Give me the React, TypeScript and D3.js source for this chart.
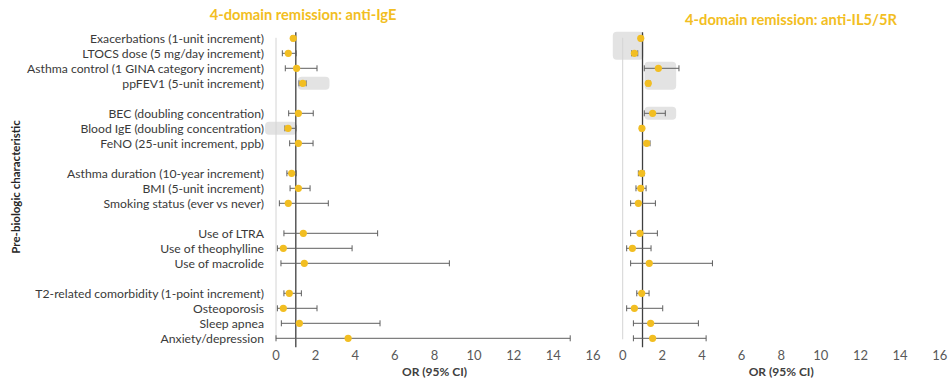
import React from "react";
import * as d3 from "d3";

const categories = [
  "Exacerbations (1-unit increment)",
  "LTOCS dose (5 mg/day increment)",
  "Asthma control (1 GINA category increment)",
  "ppFEV1 (5-unit increment)",
  "",
  "BEC (doubling concentration)",
  "Blood IgE (doubling concentration)",
  "FeNO (25-unit increment, ppb)",
  "",
  "Asthma duration (10-year increment)",
  "BMI (5-unit increment)",
  "Smoking status (ever vs never)",
  "",
  "Use of LTRA",
  "Use of theophylline",
  "Use of macrolide ",
  "",
  "T2-related comorbidity (1-point increment)",
  "Osteoporosis",
  "Sleep apnea",
  "Anxiety/depression",
];

// anti-IgE: OR, lower, upper (null for spacer rows)
const igeOR = [0.87, 0.62, 1.04, 1.35, null, 1.13, 0.61, 1.13, null, 0.79, 1.13, 0.62, null, 1.38, 0.37, 1.43, null, 0.67, 0.37, 1.18, 3.64];
const igeLo = [0.8, 0.32, 0.47, 1.16, null, 0.64, 0.45, 0.69, null, 0.55, 0.71, 0.17, null, 0.4, 0.07, 0.25, null, 0.4, 0.07, 0.27, 0.0];
const igeHi = [0.95, 1.02, 2.07, 1.52, null, 1.88, 1.01, 1.87, null, 1.02, 1.72, 2.64, null, 5.13, 3.84, 8.75, null, 1.28, 2.07, 5.25, 14.85];

// anti-IL5/5R
const il5OR = [0.91, 0.59, 1.8, 1.29, null, 1.51, 0.97, 1.21, null, 0.96, 0.91, 0.79, null, 0.87, 0.49, 1.34, null, 0.96, 0.59, 1.41, 1.51];
const il5Lo = [0.88, 0.45, 1.09, 1.2, null, 1.09, 0.88, 1.01, null, 0.79, 0.67, 0.4, null, 0.4, 0.2, 0.4, null, 0.71, 0.2, 0.54, 0.54];
const il5Hi = [0.95, 0.76, 2.84, 1.38, null, 2.15, 1.05, 1.38, null, 1.08, 1.18, 1.65, null, 1.75, 1.43, 4.53, null, 1.33, 2.02, 3.82, 4.21];

const xTicks = [0, 2, 4, 6, 8, 10, 12, 14, 16];

// highlighted regions
const igeHighlights = [
  { r0: 3, r1: 3, x0: 1.1, x1: 2.7 },
  { r0: 6, r1: 6, x0: -0.55, x1: 1.05 },
];
const il5Highlights = [
  { r0: 0, r1: 1, x0: -0.5, x1: 1.05 },
  { r0: 2, r1: 3, x0: 1.1, x1: 2.7 },
  { r0: 5, r1: 5, x0: 1.1, x1: 2.7 },
];

const GOLD = "#F2BE22";
const FONT = "Lato, 'Open Sans', sans-serif";
const BAR = "#5f5f5f";

function Panel({ left, title, titleX, titleY, or, lo, hi, highlights }: any) {
  const x = d3.scaleLinear().domain([0, 16]).range([left, left + 317]);
  const y = d3.scaleLinear().domain([0, 20]).range([38.3, 338.3]);
  return (
    <g>
      {highlights.map((h: any, i: number) => (
        <rect
          key={"h" + i}
          x={x(h.x0)}
          y={y(h.r0) - 6.5}
          width={x(h.x1) - x(h.x0)}
          height={y(h.r1) - y(h.r0) + 13}
          rx={4}
          fill="#e3e3e3"
        />
      ))}
      <text
        x={titleX}
        y={titleY}
        textAnchor="middle"
        fontFamily={FONT}
        fontWeight="bold"
        fontSize={14.7}
        fill={GOLD}
      >
        {title}
      </text>
      <line x1={x(0)} x2={x(0)} y1={y(0) - 0.5} y2={y(20) + 1} stroke="#d4d4d4" strokeWidth={1} />
      <line x1={x(1)} x2={x(1)} y1={y(0) - 6} y2={y(20) + 9} stroke="#3f3f3f" strokeWidth={1.3} />
      {or.map((v: number | null, i: number) =>
        v == null ? null : (
          <g key={i}>
            <line x1={x(lo[i])} x2={x(hi[i])} y1={y(i)} y2={y(i)} stroke={BAR} strokeWidth={1} />
            <line x1={x(lo[i])} x2={x(lo[i])} y1={y(i) - 3} y2={y(i) + 3} stroke={BAR} strokeWidth={1} />
            <line x1={x(hi[i])} x2={x(hi[i])} y1={y(i) - 3} y2={y(i) + 3} stroke={BAR} strokeWidth={1} />
            <circle cx={x(v)} cy={y(i)} r={3.6} fill={GOLD} />
          </g>
        )
      )}
      {xTicks.map((t) => (
        <text
          key={t}
          x={x(t)}
          y={360}
          textAnchor="middle"
          fontFamily={FONT}
          fontSize={13}
          fill="#595959"
        >
          {t}
        </text>
      ))}
      <text
        x={(x(0) + x(16)) / 2}
        y={376}
        textAnchor="middle"
        fontFamily={FONT}
        fontWeight="bold"
        fontSize={12}
        fill="#404040"
      >
        OR (95% CI)
      </text>
    </g>
  );
}

export default function App() {
  const y = d3.scaleLinear().domain([0, 20]).range([38.3, 338.3]);
  return (
    <svg width={950} height={387} style={{ position: "absolute", left: 0, top: 0 }}>
      <rect width={950} height={387} fill="#ffffff" />
      {categories.map((c, i) =>
        c ? (
          <text
            key={i}
            x={264}
            y={y(i)}
            dy="0.35em"
            textAnchor="end"
            fontFamily={FONT}
            fontSize={12.2}
            fill="#3a3a3a"
          >
            {c}
          </text>
        ) : null
      )}
      <text
        transform="translate(20,187) rotate(-90)"
        textAnchor="middle"
        fontFamily={FONT}
        fontWeight="bold"
        fontSize={11.5}
        fill="#262626"
      >
        Pre-biologic characteristic
      </text>
      <Panel left={276} title="4-domain remission: anti-IgE" titleX={303} titleY={20} or={igeOR} lo={igeLo} hi={igeHi} highlights={igeHighlights} />
      <Panel left={622.7} title="4-domain remission: anti-IL5/5R" titleX={791} titleY={25} or={il5OR} lo={il5Lo} hi={il5Hi} highlights={il5Highlights} />
    </svg>
  );
}
